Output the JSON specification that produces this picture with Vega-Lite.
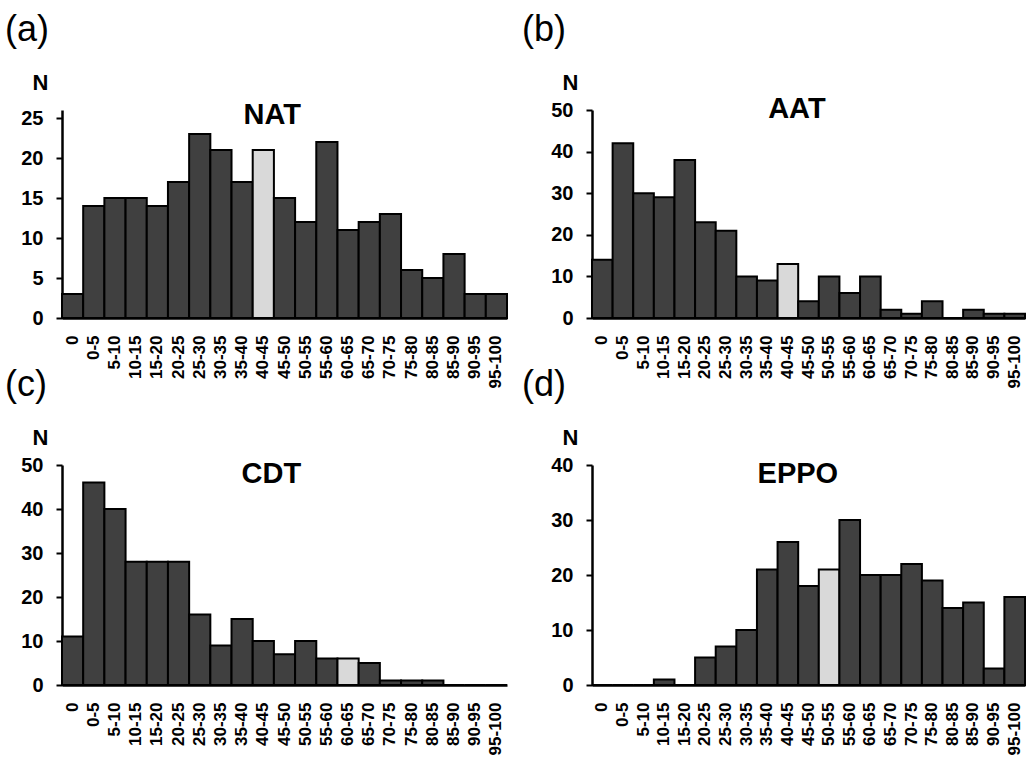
{
  "$schema": "https://vega.github.io/schema/vega-lite/v6.json",
  "autosize": "none",
  "padding": {"left": 62, "top": 110, "right": 970, "bottom": 656},
  "background": "white",
  "config": {
    "font": "Liberation Sans",
    "view": {"stroke": null},
    "title": {"fontSize": 36, "fontWeight": "normal", "anchor": "start", "frame": "group", "color": "black", "offset": 22},
    "axis": {"domainColor": "black", "domainWidth": 2.5, "labelColor": "black", "labelFontWeight": "bold", "grid": false, "tickColor": "black", "tickWidth": 2, "titleColor": "black"},
    "axisX": {"ticks": false, "tickSize": 0, "labelAngle": -90, "labelFontSize": 17, "labelPadding": 17, "title": null},
    "axisY": {"tickSize": 6, "labelFontSize": 20, "labelPadding": 13, "titleAngle": 0, "titleX": -22, "titleY": -21, "titleAlign": "center", "titleBaseline": "alphabetic", "titleFontSize": 22, "titleFontWeight": "bold"},
    "bar": {"stroke": "black", "strokeWidth": 2},
    "text": {"fontSize": 29, "fontWeight": "bold", "color": "black", "baseline": "alphabetic"}
  },
  "datasets": {
    "nat": [
      {"bin": "0", "n": 3, "hl": "no"}, {"bin": "0-5", "n": 14, "hl": "no"}, {"bin": "5-10", "n": 15, "hl": "no"},
      {"bin": "10-15", "n": 15, "hl": "no"}, {"bin": "15-20", "n": 14, "hl": "no"}, {"bin": "20-25", "n": 17, "hl": "no"},
      {"bin": "25-30", "n": 23, "hl": "no"}, {"bin": "30-35", "n": 21, "hl": "no"}, {"bin": "35-40", "n": 17, "hl": "no"},
      {"bin": "40-45", "n": 21, "hl": "yes"}, {"bin": "45-50", "n": 15, "hl": "no"}, {"bin": "50-55", "n": 12, "hl": "no"},
      {"bin": "55-60", "n": 22, "hl": "no"}, {"bin": "60-65", "n": 11, "hl": "no"}, {"bin": "65-70", "n": 12, "hl": "no"},
      {"bin": "70-75", "n": 13, "hl": "no"}, {"bin": "75-80", "n": 6, "hl": "no"}, {"bin": "80-85", "n": 5, "hl": "no"},
      {"bin": "85-90", "n": 8, "hl": "no"}, {"bin": "90-95", "n": 3, "hl": "no"}, {"bin": "95-100", "n": 3, "hl": "no"}
    ],
    "aat": [
      {"bin": "0", "n": 14, "hl": "no"}, {"bin": "0-5", "n": 42, "hl": "no"}, {"bin": "5-10", "n": 30, "hl": "no"},
      {"bin": "10-15", "n": 29, "hl": "no"}, {"bin": "15-20", "n": 38, "hl": "no"}, {"bin": "20-25", "n": 23, "hl": "no"},
      {"bin": "25-30", "n": 21, "hl": "no"}, {"bin": "30-35", "n": 10, "hl": "no"}, {"bin": "35-40", "n": 9, "hl": "no"},
      {"bin": "40-45", "n": 13, "hl": "yes"}, {"bin": "45-50", "n": 4, "hl": "no"}, {"bin": "50-55", "n": 10, "hl": "no"},
      {"bin": "55-60", "n": 6, "hl": "no"}, {"bin": "60-65", "n": 10, "hl": "no"}, {"bin": "65-70", "n": 2, "hl": "no"},
      {"bin": "70-75", "n": 1, "hl": "no"}, {"bin": "75-80", "n": 4, "hl": "no"}, {"bin": "80-85", "n": 0, "hl": "no"},
      {"bin": "85-90", "n": 2, "hl": "no"}, {"bin": "90-95", "n": 1, "hl": "no"}, {"bin": "95-100", "n": 1, "hl": "no"}
    ],
    "cdt": [
      {"bin": "0", "n": 11, "hl": "no"}, {"bin": "0-5", "n": 46, "hl": "no"}, {"bin": "5-10", "n": 40, "hl": "no"},
      {"bin": "10-15", "n": 28, "hl": "no"}, {"bin": "15-20", "n": 28, "hl": "no"}, {"bin": "20-25", "n": 28, "hl": "no"},
      {"bin": "25-30", "n": 16, "hl": "no"}, {"bin": "30-35", "n": 9, "hl": "no"}, {"bin": "35-40", "n": 15, "hl": "no"},
      {"bin": "40-45", "n": 10, "hl": "no"}, {"bin": "45-50", "n": 7, "hl": "no"}, {"bin": "50-55", "n": 10, "hl": "no"},
      {"bin": "55-60", "n": 6, "hl": "no"}, {"bin": "60-65", "n": 6, "hl": "yes"}, {"bin": "65-70", "n": 5, "hl": "no"},
      {"bin": "70-75", "n": 1, "hl": "no"}, {"bin": "75-80", "n": 1, "hl": "no"}, {"bin": "80-85", "n": 1, "hl": "no"},
      {"bin": "85-90", "n": 0, "hl": "no"}, {"bin": "90-95", "n": 0, "hl": "no"}, {"bin": "95-100", "n": 0, "hl": "no"}
    ],
    "eppo": [
      {"bin": "0", "n": 0, "hl": "no"}, {"bin": "0-5", "n": 0, "hl": "no"}, {"bin": "5-10", "n": 0, "hl": "no"},
      {"bin": "10-15", "n": 1, "hl": "no"}, {"bin": "15-20", "n": 0, "hl": "no"}, {"bin": "20-25", "n": 5, "hl": "no"},
      {"bin": "25-30", "n": 7, "hl": "no"}, {"bin": "30-35", "n": 10, "hl": "no"}, {"bin": "35-40", "n": 21, "hl": "no"},
      {"bin": "40-45", "n": 26, "hl": "no"}, {"bin": "45-50", "n": 18, "hl": "no"}, {"bin": "50-55", "n": 21, "hl": "yes"},
      {"bin": "55-60", "n": 30, "hl": "no"}, {"bin": "60-65", "n": 20, "hl": "no"}, {"bin": "65-70", "n": 20, "hl": "no"},
      {"bin": "70-75", "n": 22, "hl": "no"}, {"bin": "75-80", "n": 19, "hl": "no"}, {"bin": "80-85", "n": 14, "hl": "no"},
      {"bin": "85-90", "n": 15, "hl": "no"}, {"bin": "90-95", "n": 3, "hl": "no"}, {"bin": "95-100", "n": 16, "hl": "no"}
    ]
  },
  "columns": 2,
  "bounds": "flush",
  "spacing": {"row": 147, "column": 85},
  "concat": [
    {
      "width": 445, "height": 208,
      "title": {"text": "(a)", "dx": -57},
      "layer": [
        {
          "data": {"name": "nat"},
          "mark": "bar",
          "encoding": {
            "x": {"field": "bin", "type": "nominal", "sort": null, "scale": {"domain": ["0","0-5","5-10","10-15","15-20","20-25","25-30","30-35","35-40","40-45","45-50","50-55","55-60","60-65","65-70","70-75","75-80","80-85","85-90","90-95","95-100"], "paddingInner": 0, "paddingOuter": 0}, "axis": {"title": null}},
            "y": {"field": "n", "type": "quantitative", "scale": {"domain": [0, 25]}, "axis": {"title": "N", "values": [0, 5, 10, 15, 20, 25]}},
            "color": {"field": "hl", "type": "nominal", "scale": {"domain": ["no", "yes"], "range": ["#404040", "#d9d9d9"]}, "legend": null}
          }
        },
        {
          "data": {"values": [{"label": "NAT"}]},
          "mark": {"type": "text", "dx": 9},
          "encoding": {"x": {"datum": "40-45"}, "y": {"datum": 24.2}, "text": {"field": "label"}}
        }
      ]
    },
    {
      "width": 433, "height": 208,
      "title": {"text": "(b)", "dx": -70},
      "layer": [
        {
          "data": {"name": "aat"},
          "mark": "bar",
          "encoding": {
            "x": {"field": "bin", "type": "nominal", "sort": null, "scale": {"domain": ["0","0-5","5-10","10-15","15-20","20-25","25-30","30-35","35-40","40-45","45-50","50-55","55-60","60-65","65-70","70-75","75-80","80-85","85-90","90-95","95-100"], "paddingInner": 0, "paddingOuter": 0}, "axis": {"title": null}},
            "y": {"field": "n", "type": "quantitative", "scale": {"domain": [0, 50]}, "axis": {"title": "N", "values": [0, 10, 20, 30, 40, 50]}},
            "color": {"field": "hl", "type": "nominal", "scale": {"domain": ["no", "yes"], "range": ["#404040", "#d9d9d9"]}, "legend": null}
          }
        },
        {
          "data": {"values": [{"label": "AAT"}]},
          "mark": {"type": "text", "dx": 9},
          "encoding": {"x": {"datum": "40-45"}, "y": {"datum": 48}, "text": {"field": "label"}}
        }
      ]
    },
    {
      "width": 445, "height": 220,
      "title": {"text": "(c)", "dx": -57},
      "layer": [
        {
          "data": {"name": "cdt"},
          "mark": "bar",
          "encoding": {
            "x": {"field": "bin", "type": "nominal", "sort": null, "scale": {"domain": ["0","0-5","5-10","10-15","15-20","20-25","25-30","30-35","35-40","40-45","45-50","50-55","55-60","60-65","65-70","70-75","75-80","80-85","85-90","90-95","95-100"], "paddingInner": 0, "paddingOuter": 0}, "axis": {"title": null}},
            "y": {"field": "n", "type": "quantitative", "scale": {"domain": [0, 50]}, "axis": {"title": "N", "values": [0, 10, 20, 30, 40, 50]}},
            "color": {"field": "hl", "type": "nominal", "scale": {"domain": ["no", "yes"], "range": ["#404040", "#d9d9d9"]}, "legend": null}
          }
        },
        {
          "data": {"values": [{"label": "CDT"}]},
          "mark": {"type": "text", "dx": 8},
          "encoding": {"x": {"datum": "40-45"}, "y": {"datum": 46}, "text": {"field": "label"}}
        }
      ]
    },
    {
      "width": 433, "height": 220,
      "title": {"text": "(d)", "dx": -70},
      "layer": [
        {
          "data": {"name": "eppo"},
          "mark": "bar",
          "encoding": {
            "x": {"field": "bin", "type": "nominal", "sort": null, "scale": {"domain": ["0","0-5","5-10","10-15","15-20","20-25","25-30","30-35","35-40","40-45","45-50","50-55","55-60","60-65","65-70","70-75","75-80","80-85","85-90","90-95","95-100"], "paddingInner": 0, "paddingOuter": 0}, "axis": {"title": null}},
            "y": {"field": "n", "type": "quantitative", "scale": {"domain": [0, 40]}, "axis": {"title": "N", "values": [0, 10, 20, 30, 40]}},
            "color": {"field": "hl", "type": "nominal", "scale": {"domain": ["no", "yes"], "range": ["#404040", "#d9d9d9"]}, "legend": null}
          }
        },
        {
          "data": {"values": [{"label": "EPPO"}]},
          "mark": {"type": "text", "dx": 10},
          "encoding": {"x": {"datum": "40-45"}, "y": {"datum": 36.8}, "text": {"field": "label"}}
        }
      ]
    }
  ]
}
